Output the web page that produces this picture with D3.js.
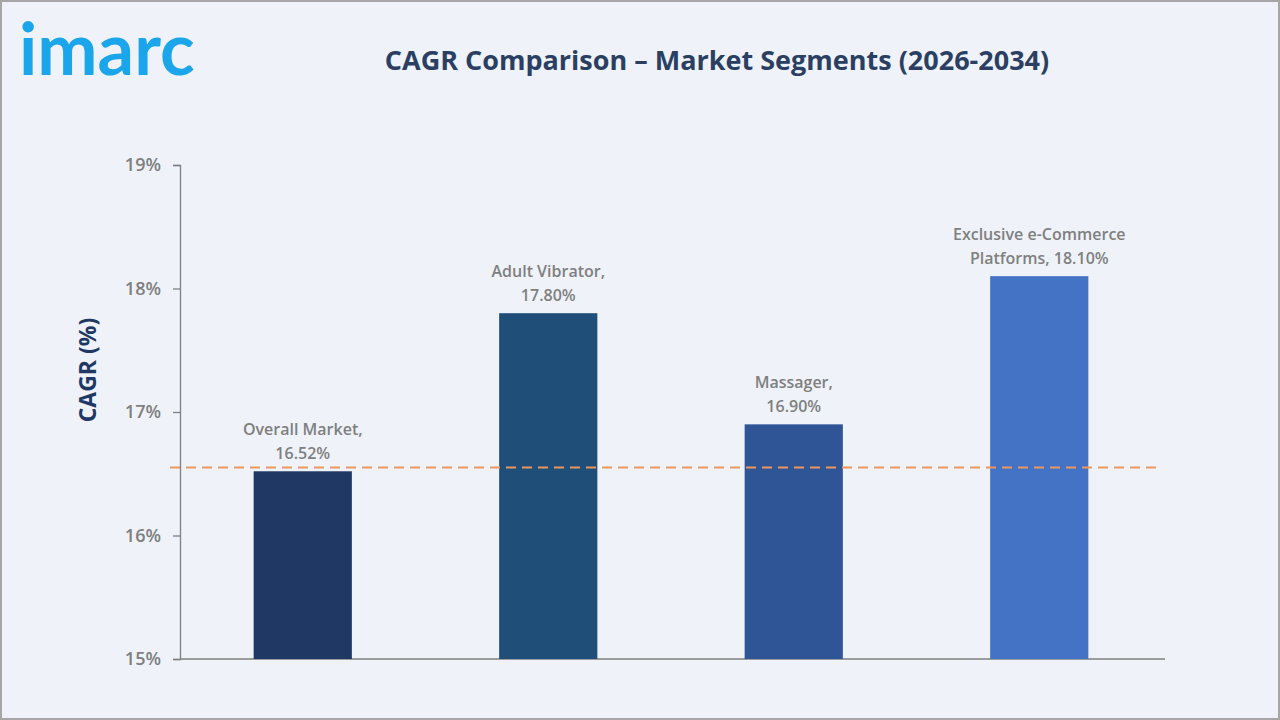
<!DOCTYPE html>
<html>
<head>
<meta charset="utf-8">
<script src="https://cdn.jsdelivr.net/npm/d3@7"></script>
<style>
  html, body { margin: 0; padding: 0; background: #eff3f9; }
  svg { display: block; }
</style>
</head>
<body>
<svg id="chart"></svg>
<script>
// chart data
const categories = ["Overall Market", "Adult Vibrator", "Massager", "Exclusive e-Commerce Platforms"];
const cagrValues = [16.52, 17.80, 16.90, 18.10];
const labelLines = [
  ["Overall Market,", "16.52%"],
  ["Adult Vibrator,", "17.80%"],
  ["Massager,", "16.90%"],
  ["Exclusive e-Commerce", "Platforms, 18.10%"]
];
const yTicks = [15, 16, 17, 18, 19];
const referenceValue = 16.55;
const barColors = ["#203864", "#1f4e79", "#2f5597", "#4472c4"];

const width = 1280, height = 720;
const svg = d3.select("#chart").attr("width", width).attr("height", height);

// background + border
svg.append("rect")
  .attr("x", 1).attr("y", 1)
  .attr("width", width - 2).attr("height", height - 2)
  .attr("fill", "#eff3f9")
  .attr("stroke", "#a6a6a6")
  .attr("stroke-width", 2);

// logo
svg.append("text")
  .attr("x", 19).attr("y", 75)
  .attr("font-family", "Lato, 'Open Sans', sans-serif")
  .attr("font-weight", 700)
  .attr("font-size", 72)
  .attr("fill", "#1ba6ec")
  .text("imarc");

// title
svg.append("text")
  .attr("x", 717).attr("y", 70)
  .attr("text-anchor", "middle")
  .attr("font-family", "'Open Sans', sans-serif")
  .attr("font-weight", 700)
  .attr("font-size", 27)
  .attr("fill", "#2b3f63")
  .text("CAGR Comparison \u2013 Market Segments (2026-2034)");

const x = d3.scaleBand()
  .domain(categories)
  .range([180, 1162])
  .paddingInner(0.6)
  .paddingOuter(0.3);

const y = d3.scaleLinear()
  .domain([15, 19])
  .range([659, 165]);

// y axis
const yAxis = svg.append("g")
  .attr("transform", "translate(180,0)")
  .call(d3.axisLeft(y).tickValues(yTicks).tickSize(7).tickPadding(12).tickFormat(d => d + "%"));
yAxis.select(".domain").attr("stroke", "#7f7f7f").attr("stroke-width", 1.3);
yAxis.selectAll(".tick line").attr("stroke", "#7f7f7f").attr("stroke-width", 1.3);
yAxis.selectAll(".tick text")
  .attr("fill", "#7f7f7f")
  .attr("font-family", "'Open Sans', sans-serif")
  .attr("font-size", 18)
  .attr("font-weight", 600);

// x axis line
svg.append("line")
  .attr("x1", 180).attr("x2", 1165)
  .attr("y1", y(15)).attr("y2", y(15))
  .attr("stroke", "#7f7f7f")
  .attr("stroke-width", 1.3);

// y axis title
svg.append("text")
  .attr("transform", "translate(96,370) rotate(-90)")
  .attr("text-anchor", "middle")
  .attr("font-family", "'Open Sans', sans-serif")
  .attr("font-weight", 700)
  .attr("font-size", 23)
  .attr("fill", "#1f3864")
  .text("CAGR (%)");

// bars
svg.selectAll("rect.bar")
  .data(cagrValues)
  .enter()
  .append("rect")
  .attr("class", "bar")
  .attr("x", (d, i) => x(categories[i]))
  .attr("width", x.bandwidth())
  .attr("y", d => y(d))
  .attr("height", d => y(15) - y(d))
  .attr("fill", (d, i) => barColors[i]);

// reference dashed line
svg.append("line")
  .attr("x1", 170).attr("x2", 1160)
  .attr("y1", y(referenceValue)).attr("y2", y(referenceValue))
  .attr("stroke", "#e9975c")
  .attr("stroke-width", 2)
  .attr("stroke-dasharray", "10,6");

// data labels
const labels = svg.selectAll("text.dlabel")
  .data(cagrValues)
  .enter()
  .append("text")
  .attr("class", "dlabel")
  .attr("text-anchor", "middle")
  .attr("font-family", "'Open Sans', sans-serif")
  .attr("font-weight", 600)
  .attr("font-size", 16)
  .attr("fill", "#7f7f7f")
  .attr("transform", (d, i) => `translate(${x(categories[i]) + x.bandwidth() / 2},${y(d) - 36})`);

labels.each(function(d, i) {
  const t = d3.select(this);
  labelLines[i].forEach((line, j) => {
    t.append("tspan").attr("x", 0).attr("y", j * 24).text(line);
  });
});
</script>
</body>
</html>
